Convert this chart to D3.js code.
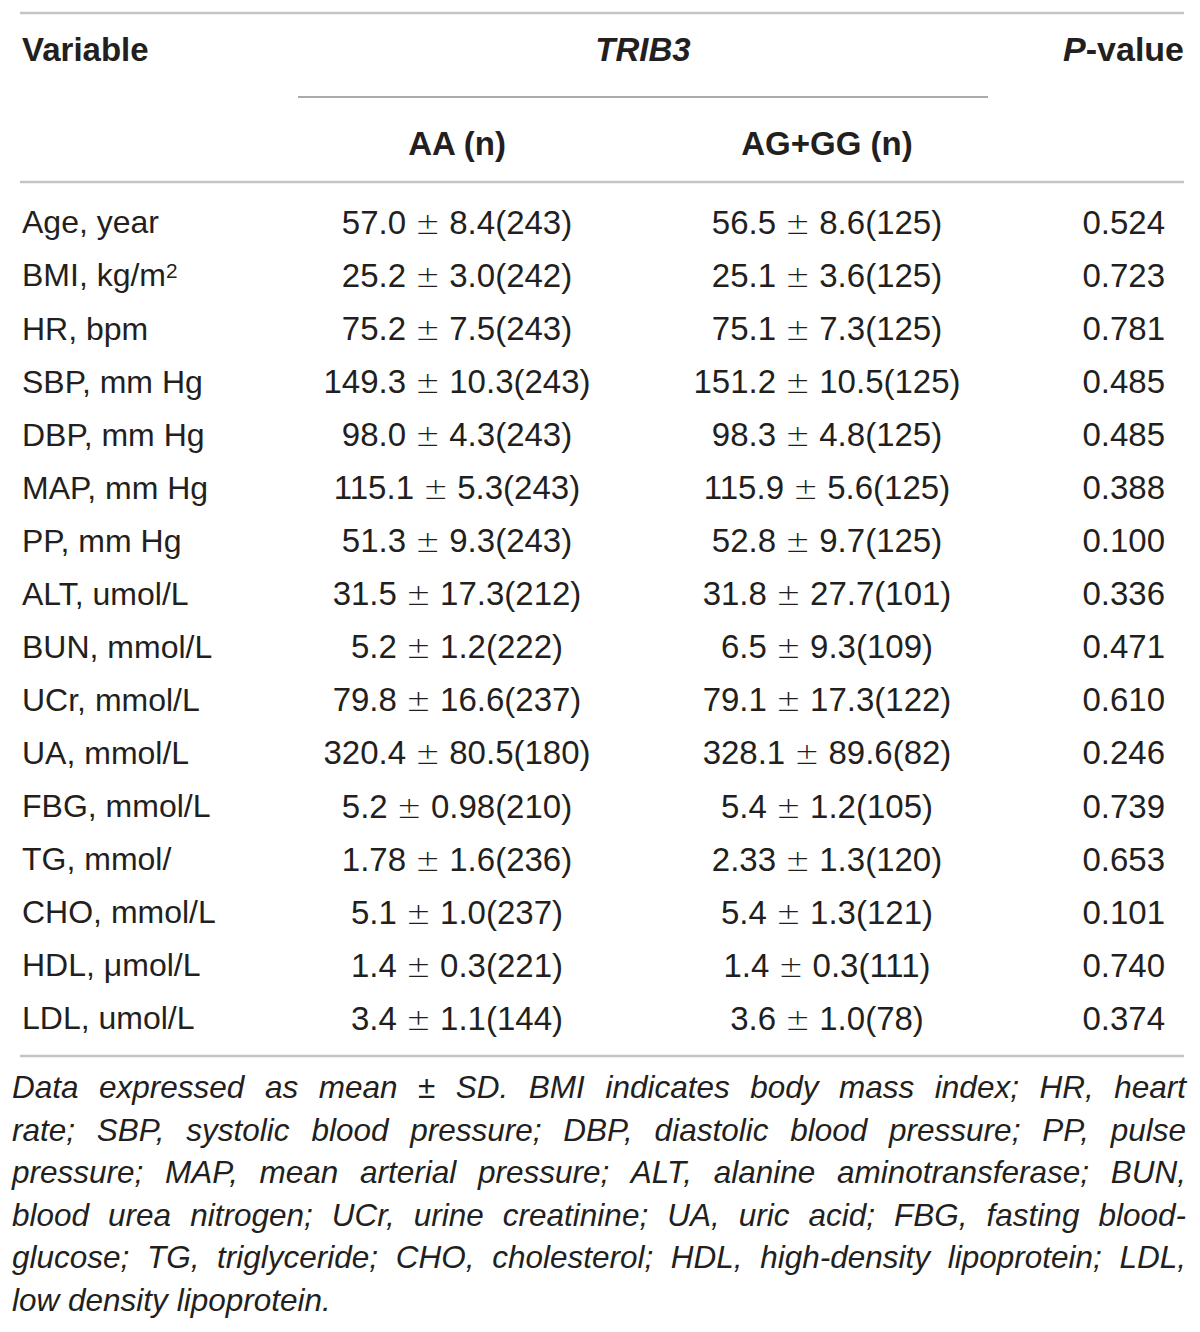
<!DOCTYPE html>
<html>
<head>
<meta charset="utf-8">
<script src="https://cdn.jsdelivr.net/npm/d3@7"></script>
<style>
    html, body { margin: 0; padding: 0; background: #fff; }
    svg text { font-family: 'Liberation Sans', Arial, sans-serif; fill: #231f20; }
    .head { font-weight: bold; }
    .note { font-style: italic; }
    .pm { font-family: 'DejaVu Sans', sans-serif; font-weight: 200; }
</style>
</head>
<body>
<div id="table"></div>
<script>

    var variables = ["Age, year", "BMI, kg/m|2", "HR, bpm", "SBP, mm Hg", "DBP, mm Hg",
                     "MAP, mm Hg", "PP, mm Hg", "ALT, umol/L", "BUN, mmol/L", "UCr, mmol/L",
                     "UA, mmol/L", "FBG, mmol/L", "TG, mmol/", "CHO, mmol/L", "HDL, \u03bcmol/L",
                     "LDL, umol/L"];

    var aaValues = ["57.0 \u00b1 8.4(243)", "25.2 \u00b1 3.0(242)", "75.2 \u00b1 7.5(243)",
                    "149.3 \u00b1 10.3(243)", "98.0 \u00b1 4.3(243)", "115.1 \u00b1 5.3(243)",
                    "51.3 \u00b1 9.3(243)", "31.5 \u00b1 17.3(212)", "5.2 \u00b1 1.2(222)",
                    "79.8 \u00b1 16.6(237)", "320.4 \u00b1 80.5(180)", "5.2 \u00b1 0.98(210)",
                    "1.78 \u00b1 1.6(236)", "5.1 \u00b1 1.0(237)", "1.4 \u00b1 0.3(221)",
                    "3.4 \u00b1 1.1(144)"];

    var agggValues = ["56.5 \u00b1 8.6(125)", "25.1 \u00b1 3.6(125)", "75.1 \u00b1 7.3(125)",
                      "151.2 \u00b1 10.5(125)", "98.3 \u00b1 4.8(125)", "115.9 \u00b1 5.6(125)",
                      "52.8 \u00b1 9.7(125)", "31.8 \u00b1 27.7(101)", "6.5 \u00b1 9.3(109)",
                      "79.1 \u00b1 17.3(122)", "328.1 \u00b1 89.6(82)", "5.4 \u00b1 1.2(105)",
                      "2.33 \u00b1 1.3(120)", "5.4 \u00b1 1.3(121)", "1.4 \u00b1 0.3(111)",
                      "3.6 \u00b1 1.0(78)"];

    var pValues = ["0.524", "0.723", "0.781", "0.485", "0.485", "0.388", "0.100", "0.336",
                   "0.471", "0.610", "0.246", "0.739", "0.653", "0.101", "0.740", "0.374"];

    var noteLines = [
        "Data expressed as mean \u00b1 SD. BMI indicates body mass index; HR, heart",
        "rate; SBP, systolic blood pressure; DBP, diastolic blood pressure; PP, pulse",
        "pressure; MAP, mean arterial pressure; ALT, alanine aminotransferase; BUN,",
        "blood urea nitrogen; UCr, urine creatinine; UA, uric acid; FBG, fasting blood-",
        "glucose; TG, triglyceride; CHO, cholesterol; HDL, high-density lipoprotein; LDL,",
        "low density lipoprotein."
    ];

    var width = 1200, height = 1332;

    const svg = d3.select("#table").append("svg")
        .attr("width", width)
        .attr("height", height);

    // row positions
    var y = d3.scaleBand()
        .domain(d3.range(variables.length))
        .range([195.5, 195.5 + 53.07 * variables.length]);

    // column anchors
    var colX = { variable: 22, aa: 457, aggg: 827, p: 1165 };

    // rules
    function rule(x1, x2, yy, color, w) {
        svg.append("line")
            .attr("x1", x1).attr("x2", x2)
            .attr("y1", yy).attr("y2", yy)
            .attr("stroke", color)
            .attr("stroke-width", w);
    }
    rule(20, 1184, 13, "#c4c4c4", 2.5);
    rule(298, 988, 97, "#8e8e8e", 1.5);
    rule(20, 1184, 182, "#c4c4c4", 2.5);
    rule(20, 1184, 1056, "#c4c4c4", 2.5);

    // header
    var head = svg.append("g").attr("class", "head").style("font-size", "33px");
    head.append("text").attr("x", colX.variable).attr("y", 61).text("Variable");
    head.append("text").attr("x", 643).attr("y", 61).attr("text-anchor", "middle")
        .style("font-style", "italic").text("TRIB3");
    var pv = head.append("text").attr("x", 1184).attr("y", 61).attr("text-anchor", "end")
        .style("font-size", "34px");
    pv.append("tspan").style("font-style", "italic").text("P");
    pv.append("tspan").text("-value");
    head.append("text").attr("x", colX.aa).attr("y", 155).attr("text-anchor", "middle").text("AA (n)");
    head.append("text").attr("x", colX.aggg).attr("y", 155).attr("text-anchor", "middle").text("AG+GG (n)");

    // body rows
    var rows = svg.append("g")
        .selectAll("g")
        .data(variables.map((v, i) => ({ v: v, aa: aaValues[i], ag: agggValues[i], p: pValues[i], i: i })))
        .join("g")
        .attr("transform", d => "translate(0," + (y(d.i) + y.bandwidth() / 2) + ")");

    rows.append("text")
        .attr("x", colX.variable)
        .attr("dy", "0.355em")
        .style("font-size", "32px")
        .each(function(d) {
            var parts = d.v.split("|");
            var t = d3.select(this);
            t.append("tspan").text(parts[0]);
            if (parts[1]) {
                t.append("tspan")
                    .attr("dy", "-0.42em")
                    .style("font-size", "0.65em")
                    .text(parts[1]);
            }
        });

    // mean ± SD(n), with a wider plus-minus sign
    function valueText(sel, key, x) {
        sel.append("text")
            .attr("x", x)
            .attr("dy", "0.355em")
            .attr("text-anchor", "middle")
            .style("font-size", "33px")
            .each(function(d) {
                var parts = d[key].split(" \u00b1 ");
                var t = d3.select(this);
                t.append("tspan").text(parts[0] + " ");
                t.append("tspan").attr("class", "pm").style("font-size", "0.9em").text("\u00b1");
                t.append("tspan").text(" " + parts[1]);
            });
    }
    valueText(rows, "aa", colX.aa);
    valueText(rows, "ag", colX.aggg);

    rows.append("text")
        .attr("x", colX.p)
        .attr("dy", "0.355em")
        .attr("text-anchor", "end")
        .style("font-size", "33px")
        .text(d => d.p);

    // footnote, justified by hand
    var noteLeft = 12, noteRight = 1186, noteTop = 1098, noteStep = 42.6;
    var note = svg.append("g").attr("class", "note").style("font-size", "31.5px");

    noteLines.forEach(function(line, li) {
        var words = line.split(" ");
        var yy = noteTop + li * noteStep;
        var nodes = words.map(w => note.append("text").attr("y", yy).text(w));
        var widths = nodes.map(n => n.node().getComputedTextLength());
        var total = d3.sum(widths);
        var last = li === noteLines.length - 1;
        var gap = last ? 8.8 : (noteRight - noteLeft - total) / (words.length - 1);
        var x = noteLeft;
        nodes.forEach(function(n, k) {
            n.attr("x", x);
            x += widths[k] + gap;
        });
    });

</script>
</body>
</html>
